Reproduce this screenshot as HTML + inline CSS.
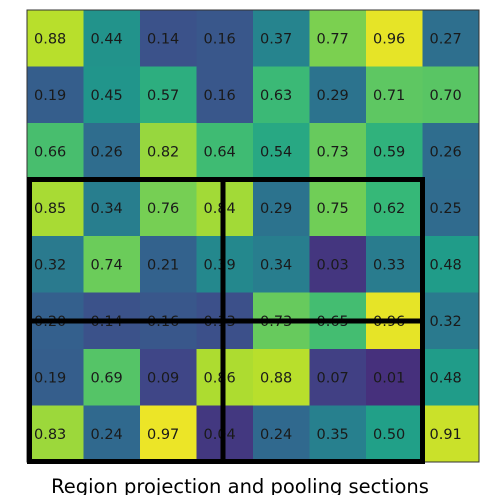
<!DOCTYPE html>
<html><head><meta charset="utf-8"><style>
body{margin:0;width:490px;height:495px;background:#fff;overflow:hidden;font-family:"DejaVu Sans","Liberation Sans",sans-serif}
</style></head><body>
<svg id="chart" width="490" height="495" xmlns="http://www.w3.org/2000/svg"></svg>
<script>
const rowLabels=[0,1,2,3,4,5,6,7];
const colLabels=[0,1,2,3,4,5,6,7];
const values=[
[0.88,0.44,0.14,0.16,0.37,0.77,0.96,0.27],
[0.19,0.45,0.57,0.16,0.63,0.29,0.71,0.70],
[0.66,0.26,0.82,0.64,0.54,0.73,0.59,0.26],
[0.85,0.34,0.76,0.84,0.29,0.75,0.62,0.25],
[0.32,0.74,0.21,0.39,0.34,0.03,0.33,0.48],
[0.20,0.14,0.16,0.13,0.73,0.65,0.96,0.32],
[0.19,0.69,0.09,0.86,0.88,0.07,0.01,0.48],
[0.83,0.24,0.97,0.04,0.24,0.35,0.50,0.91]];
const titleText="Region projection and pooling sections";
const L=27,T=10,CW=56.5,CH=56.5;
const vir=[[68,1,84],[72,40,120],[62,74,137],[49,104,142],[38,130,142],[31,158,137],[53,183,121],[109,205,89],[180,222,44],[253,231,37]];
function viridis(v){v=Math.max(0,Math.min(1,v))*9;const i=Math.min(8,Math.floor(v)),f=v-i;const a=vir[i],b=vir[i+1];return `rgb(${a.map((c,k)=>Math.round(c+(b[k]-c)*f)).join(',')})`;}
const cmap=v=>viridis(0.13+0.87*v);
const xs=c=>L+c*CW, ys=r=>T+r*CH;
const svg=document.getElementById('chart');const NS='http://www.w3.org/2000/svg';
function mk(t,a){const e=document.createElementNS(NS,t);for(const k in a)e.setAttribute(k,a[k]);svg.appendChild(e);return e;}
rowLabels.forEach(r=>colLabels.forEach(c=>{
 const v=values[r][c];
 const rc=mk('rect',{x:xs(c),y:ys(r),width:CW+0.5,height:CH+0.5,fill:cmap(v)});
 
 
 const t=mk('text',{x:xs(c)+7,y:ys(r)+CH/2+5,'font-size':14.5,fill:'#1a1a1a'});
 t.textContent=v.toFixed(2);
 
 
}));
const fr=mk('rect',{x:L,y:T,width:8*CW,height:8*CH,fill:'none',stroke:'#333','stroke-width':1});


const box=mk('rect',{x:29.5,y:179.5,width:393,height:282,fill:'none',stroke:'#000','stroke-width':5});


const vl=mk('line',{x1:223,y1:179,x2:223,y2:462,stroke:'#000','stroke-width':5});


const hl=mk('line',{x1:29,y1:321,x2:423,y2:321,stroke:'#000','stroke-width':5});


const tt=mk('text',{x:240,y:493,'font-size':19.5,'text-anchor':'middle',fill:'#000'});
tt.textContent=titleText;


</script>
</body></html>
